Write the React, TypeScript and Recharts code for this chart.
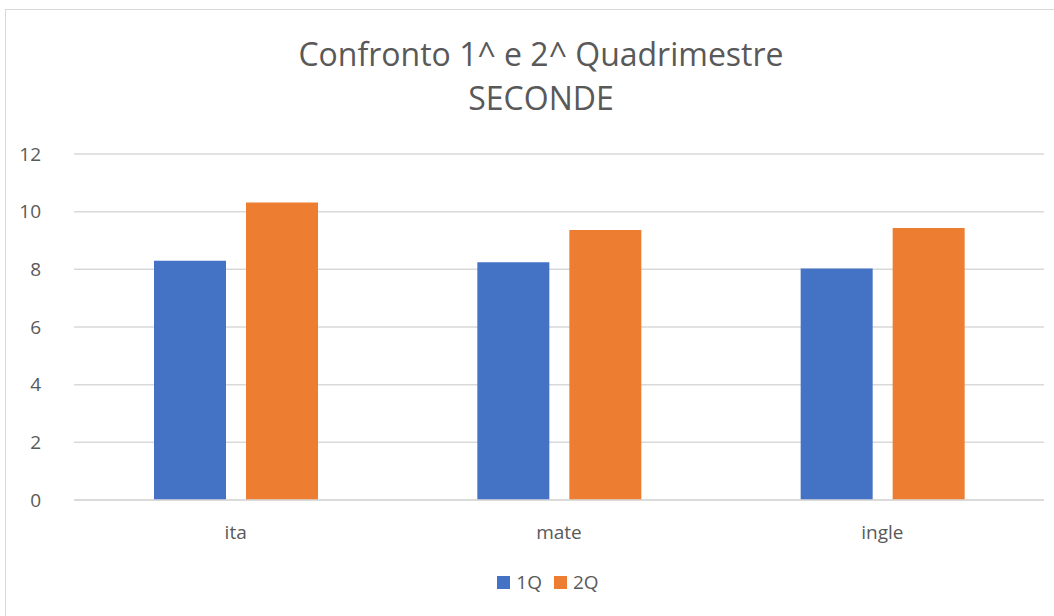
import { BarChart, Bar, XAxis, YAxis, CartesianGrid } from "recharts";

const categories = ["ita", "mate", "ingle"];
const q1 = [8.3, 8.25, 8.03];
const q2 = [10.32, 9.36, 9.43];
const yTicks = [0, 2, 4, 6, 8, 10, 12];

const BLUE = "#4472c4";
const ORANGE = "#ed7d31";
const TEXT = "#595959";
const GRID = "#d9d9d9";
const FONT = "'Open Sans', sans-serif";

const data = categories.map((c, i) => ({ name: c, q1: q1[i], q2: q2[i] }));

const tick = { fill: TEXT, fontSize: 19, fontFamily: FONT };

export default function App() {
  return (
    <div
      style={{
        position: "absolute",
        left: 0,
        top: 0,
        width: 1054,
        height: 616,
        background: "#fff",
        fontFamily: FONT,
      }}
    >
      <div
        style={{
          position: "absolute",
          left: 5,
          top: 9,
          width: 1050,
          height: 610,
          border: `1px solid ${GRID}`,
          boxSizing: "border-box",
        }}
      />
      <div
        style={{
          position: "absolute",
          left: 0,
          top: 32,
          width: 1082,
          textAlign: "center",
          color: TEXT,
          fontSize: 32,
          lineHeight: "44px",
        }}
      >
        Confronto 1^ e 2^ Quadrimestre
        <br />
        SECONDE
      </div>

      <div style={{ position: "absolute", left: 0, top: 0 }}>
        <BarChart
          width={1054}
          height={616}
          data={data}
          margin={{ top: 154, right: 10, bottom: 86, left: 0 }}
          barGap={20}
          barCategoryGap={80}
        >
          <CartesianGrid vertical={false} stroke={GRID} strokeWidth={1.5} />
          <XAxis
            dataKey="name"
            height={30}
            axisLine={{ stroke: GRID, strokeWidth: 1.5 }}
            tickLine={false}
            tick={tick}
            tickMargin={20}
          />
          <YAxis
            width={74}
            domain={[0, 12]}
            ticks={yTicks}
            axisLine={false}
            tickLine={false}
            tick={tick}
            tickMargin={27}
          />
          <Bar dataKey="q1" name="1Q" fill={BLUE} isAnimationActive={false} />
          <Bar dataKey="q2" name="2Q" fill={ORANGE} isAnimationActive={false} />
        </BarChart>
      </div>

      <div
        style={{
          position: "absolute",
          left: 0,
          top: 569,
          width: 1096,
          display: "flex",
          justifyContent: "center",
          alignItems: "center",
          color: TEXT,
          fontSize: 19,
          gap: 12,
        }}
      >
        <span style={{ display: "flex", alignItems: "center", gap: 6 }}>
          <span style={{ width: 13, height: 13, background: BLUE, display: "inline-block" }} />
          1Q
        </span>
        <span style={{ display: "flex", alignItems: "center", gap: 6 }}>
          <span style={{ width: 13, height: 13, background: ORANGE, display: "inline-block" }} />
          2Q
        </span>
      </div>
    </div>
  );
}
